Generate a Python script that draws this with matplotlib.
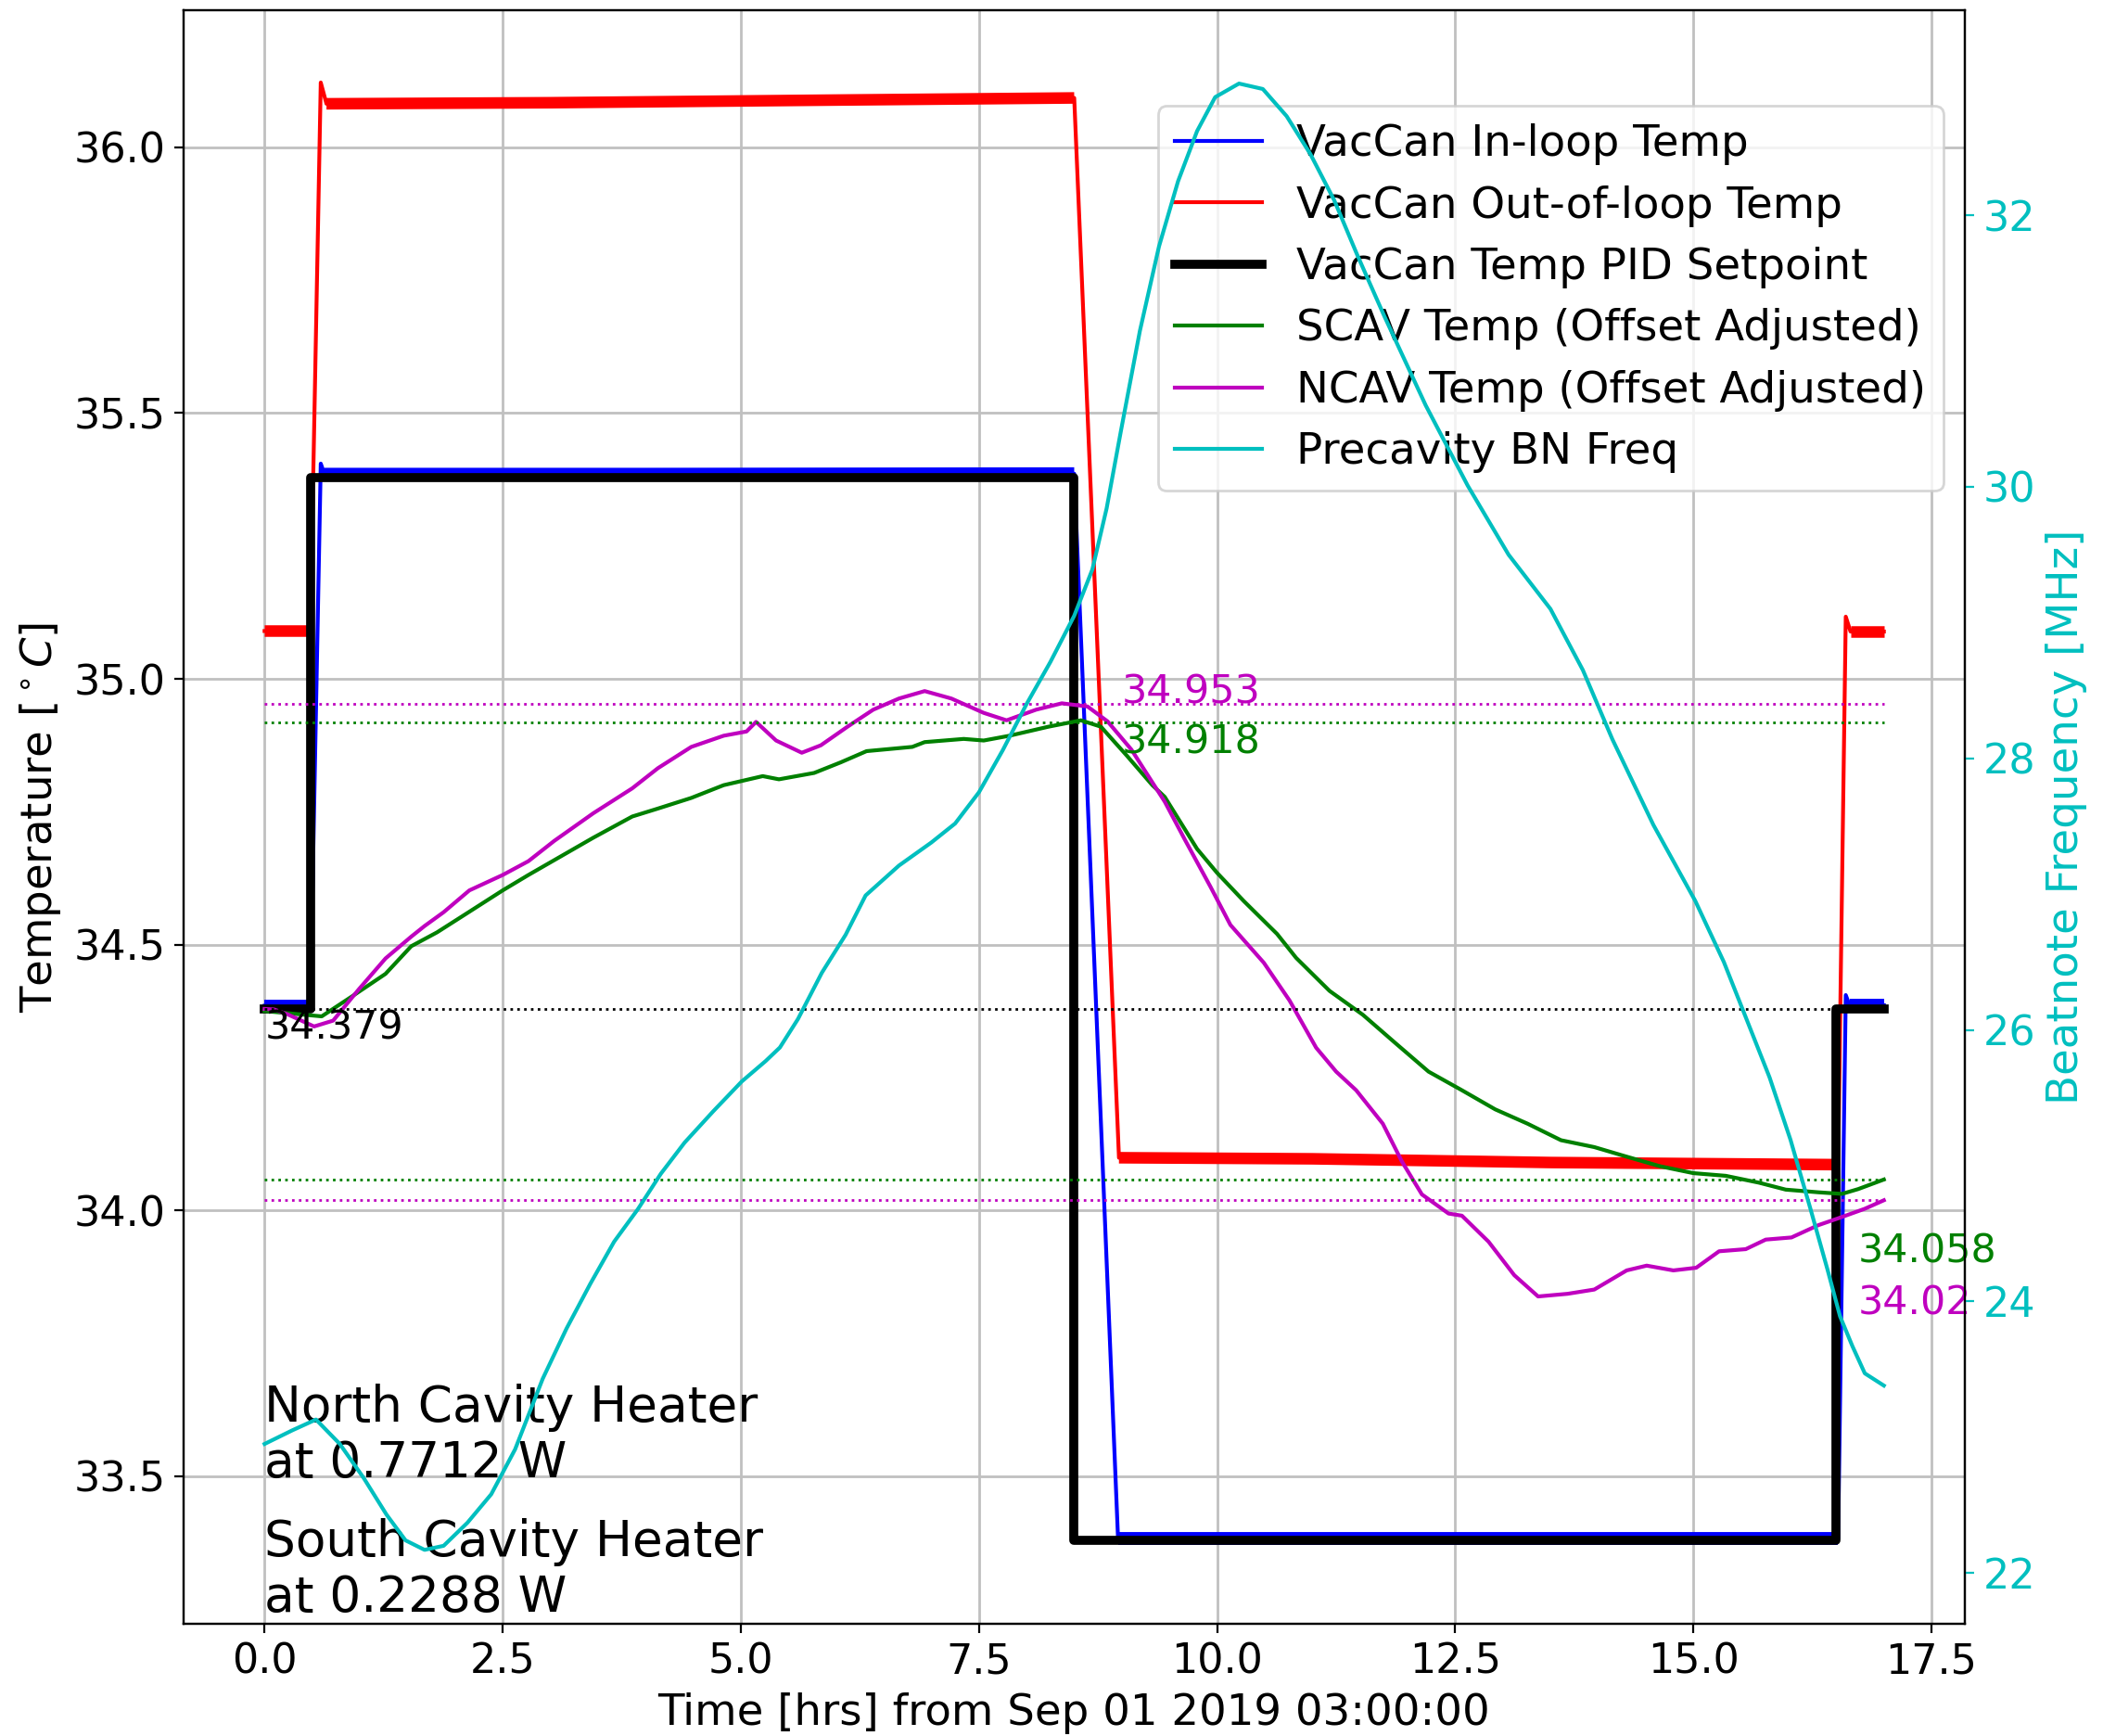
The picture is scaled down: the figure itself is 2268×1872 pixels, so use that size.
import matplotlib
matplotlib.use("Agg")
import matplotlib.pyplot as plt
import numpy as np

plt.rcParams['font.family'] = ['DejaVu Sans']
plt.rcParams['font.size'] = 16

# ---------------- data ----------------
# PID setpoint (step sequence)
set_t = [0.0, 0.48, 0.48, 8.5, 8.5, 16.5, 16.5, 17.0]
set_v = [34.379, 34.379, 35.379, 35.379, 33.379, 33.379, 34.379, 34.379]

# VacCan in-loop temperature (blue)
inl_t = [0.0, 0.48, 0.59, 0.63, 4.0, 8.5, 8.96, 12.5, 16.52, 16.6, 16.64, 17.0]
inl_v = [34.385, 34.385, 35.405, 35.385, 35.385, 35.386, 33.383, 33.383, 33.383, 34.405, 34.386, 34.386]

# VacCan out-of-loop temperature (red)
oul_t = [0.0, 0.48, 0.59, 0.65, 3.0, 6.0, 8.5, 8.97, 11.0, 13.5, 16.52, 16.6, 16.65, 17.0]
oul_v = [35.09, 35.09, 36.122, 36.082, 36.084, 36.089, 36.093, 34.099, 34.097, 34.090, 34.086, 35.117, 35.089, 35.089]

# SCAV temperature (green, offset adjusted)
scav_t = [0.0, 0.3, 0.6, 0.93, 1.27, 1.54, 1.81, 2.09, 2.5, 2.77, 3.11, 3.45, 3.86, 4.13,
          4.48, 4.82, 5.23, 5.40, 5.77, 6.05, 6.32, 6.80, 6.93, 7.34, 7.55, 7.82, 8.23,
          8.57, 8.78, 9.05, 9.32, 9.45, 9.79, 10.0, 10.28, 10.63, 10.83, 11.18, 11.53,
          11.87, 12.22, 12.57, 12.92, 13.26, 13.61, 13.96, 14.30, 14.65, 15.0, 15.34,
          15.69, 15.97, 16.31, 16.56, 16.73, 17.0]
scav_v = [34.375, 34.370, 34.365, 34.404, 34.445, 34.497, 34.523, 34.555, 34.602, 34.631,
          34.666, 34.701, 34.741, 34.756, 34.776, 34.800, 34.817, 34.811, 34.823, 34.843,
          34.864, 34.872, 34.881, 34.887, 34.884, 34.893, 34.910, 34.922, 34.910, 34.856,
          34.800, 34.778, 34.680, 34.635, 34.582, 34.520, 34.475, 34.413, 34.368, 34.315,
          34.261, 34.226, 34.190, 34.163, 34.132, 34.119, 34.101, 34.083, 34.070, 34.065,
          34.052, 34.039, 34.034, 34.031, 34.040, 34.058]

# NCAV temperature (magenta, offset adjusted)
ncav_t = [0.0, 0.1, 0.24, 0.52, 0.72, 0.99, 1.27, 1.54, 1.68, 1.88, 2.15, 2.50, 2.77, 3.04,
          3.45, 3.86, 4.13, 4.48, 4.82, 5.06, 5.16, 5.37, 5.64, 5.84, 6.12, 6.39, 6.66,
          6.93, 7.21, 7.55, 7.79, 8.10, 8.37, 8.64, 8.85, 9.10, 9.45, 9.66, 9.93, 10.14,
          10.49, 10.76, 11.04, 11.25, 11.46, 11.74, 11.94, 12.15, 12.43, 12.57, 12.85,
          13.12, 13.37, 13.68, 13.96, 14.30, 14.51, 14.79, 15.03, 15.27, 15.55, 15.76,
          16.03, 16.31, 16.52, 16.80, 17.0]
ncav_v = [34.379, 34.378, 34.369, 34.346, 34.357, 34.416, 34.474, 34.515, 34.535, 34.561,
          34.602, 34.631, 34.657, 34.695, 34.747, 34.794, 34.832, 34.872, 34.893, 34.901,
          34.919, 34.884, 34.861, 34.875, 34.910, 34.942, 34.963, 34.977, 34.963, 34.936,
          34.922, 34.942, 34.954, 34.948, 34.920, 34.867, 34.769, 34.698, 34.609, 34.537,
          34.466, 34.395, 34.306, 34.261, 34.226, 34.163, 34.092, 34.030, 33.994, 33.990,
          33.941, 33.878, 33.838, 33.843, 33.851, 33.887, 33.896, 33.887, 33.892, 33.923,
          33.927, 33.945, 33.949, 33.972, 33.985, 34.003, 34.019]

# Precavity beatnote frequency (cyan, MHz)
bn_t = [0.0, 0.29, 0.54, 0.79, 1.04, 1.28, 1.48, 1.68, 1.88, 2.13, 2.38, 2.63, 2.92, 3.17,
        3.42, 3.67, 3.92, 4.16, 4.41, 4.71, 5.01, 5.26, 5.41, 5.60, 5.85, 6.10, 6.31, 6.66,
        7.00, 7.25, 7.50, 7.75, 8.0, 8.25, 8.50, 8.69, 8.84, 8.99, 9.19, 9.39, 9.59, 9.79,
        9.98, 10.23, 10.48, 10.73, 10.98, 11.23, 11.47, 11.76, 12.19, 12.63, 13.06, 13.50,
        13.84, 14.15, 14.58, 15.02, 15.32, 15.58, 15.80, 16.02, 16.23, 16.41, 16.54, 16.67,
        16.80, 17.0]
bn_v = [22.95, 23.05, 23.13, 22.95, 22.70, 22.43, 22.24, 22.17, 22.20, 22.37, 22.58, 22.91,
        23.43, 23.80, 24.13, 24.44, 24.68, 24.94, 25.17, 25.40, 25.62, 25.77, 25.87, 26.08,
        26.42, 26.70, 26.99, 27.21, 27.38, 27.52, 27.75, 28.06, 28.40, 28.71, 29.05, 29.39,
        29.84, 30.41, 31.15, 31.77, 32.25, 32.62, 32.87, 32.97, 32.93, 32.73, 32.45, 32.11,
        31.71, 31.25, 30.60, 30.01, 29.50, 29.10, 28.65, 28.14, 27.51, 26.95, 26.50, 26.04,
        25.65, 25.19, 24.68, 24.23, 23.89, 23.67, 23.47, 23.38]

# reference levels
setpoint_low = 34.379
scav_max, scav_end = 34.918, 34.058
ncav_max, ncav_end = 34.953, 34.02

heater_texts = ["North Cavity Heater\nat 0.7712 W", "South Cavity Heater\nat 0.2288 W"]

# ---------------- plot ----------------
fig = plt.figure(figsize=(11.34, 9.36), dpi=200)
ax1 = fig.add_axes([0.0873, 0.0646, 0.8470, 0.9295])
ax2 = ax1.twinx()

inl_t_a, inl_v_a = np.array(inl_t), np.array(inl_v)
oul_t_a, oul_v_a = np.array(oul_t), np.array(oul_v)

l_in, = ax1.plot(inl_t, inl_v, color='b', lw=1.5, label='VacCan In-loop Temp')
for sl in [slice(0, 2), slice(3, 6), slice(6, 9), slice(10, 12)]:
    ax1.plot(inl_t_a[sl], inl_v_a[sl], color='b', lw=5.0, solid_capstyle='butt')
l_out, = ax1.plot(oul_t, oul_v, color='r', lw=1.5, label='VacCan Out-of-loop Temp')
for sl in [slice(0, 2), slice(3, 7), slice(7, 11), slice(12, 14)]:
    ax1.plot(oul_t_a[sl], oul_v_a[sl], color='r', lw=4.5, solid_capstyle='butt')
l_set, = ax1.plot(set_t, set_v, color='k', lw=3.5, label='VacCan Temp PID Setpoint')
l_sc, = ax1.plot(scav_t, scav_v, color='g', lw=1.5, label='SCAV Temp (Offset Adjusted)')
l_nc, = ax1.plot(ncav_t, ncav_v, color='m', lw=1.5, label='NCAV Temp (Offset Adjusted)')

t0, t1 = scav_t[0], scav_t[-1]
ax1.hlines(setpoint_low, t0, t1, colors='k', linestyles=':', lw=1.0)
ax1.hlines([scav_max, scav_end], t0, t1, colors='g', linestyles=':', lw=1.0)
ax1.hlines([ncav_max, ncav_end], t0, t1, colors='m', linestyles=':', lw=1.0)

fs_ann = 15.4
ax1.text(0.0, setpoint_low, f"{setpoint_low}", fontsize=fs_ann, color='k', ha='left', va='top')
ax1.text(9.0, ncav_max, f"{ncav_max}", fontsize=fs_ann, color='m', ha='left', va='baseline')
ax1.text(9.0, scav_max, f"{scav_max}", fontsize=fs_ann, color='g', ha='left', va='top')
ax1.text(16.73, 33.923, f"{scav_end}", fontsize=fs_ann, color='g', ha='left', va='center')
ax1.text(16.73, 33.825, f"{ncav_end}", fontsize=fs_ann, color='m', ha='left', va='center')

ax1.text(0.0, 33.478, heater_texts[0], fontsize=19.2, ha='left', va='bottom')
ax1.text(0.0, 33.225, heater_texts[1], fontsize=19.2, ha='left', va='bottom')

l_bn, = ax2.plot(bn_t, bn_v, color='c', lw=1.5, label='Precavity BN Freq')

ax1.set_xlim(-0.85, 17.85)
ax1.set_ylim(33.222, 36.258)
ax2.set_ylim(21.625, 33.51)
ax1.set_xticks(np.arange(0, 17.6, 2.5))
ax1.set_yticks([33.5, 34.0, 34.5, 35.0, 35.5, 36.0])
ax2.set_yticks([22, 24, 26, 28, 30, 32])
ax1.grid(True, color='#c0c0c0', lw=1.0)

fs_lab = 16.8
ax1.set_xlabel('Time [hrs] from Sep 01 2019 03:00:00', fontsize=fs_lab)
ax1.set_ylabel(r'Temperature [$^\circ C$]', fontsize=fs_lab)
ax2.set_ylabel('Beatnote Frequency [MHz]', color='c', fontsize=fs_lab)
ax2.tick_params(axis='y', colors='c')
ax2.spines['right'].set_color('k')

handles = [l_in, l_out, l_set, l_sc, l_nc, l_bn]
ax1.legend(handles=handles, loc='upper right', bbox_to_anchor=(1.0, 0.954),
           fontsize=fs_lab, labelspacing=0.46)

fig.savefig('out.png', dpi=200)
